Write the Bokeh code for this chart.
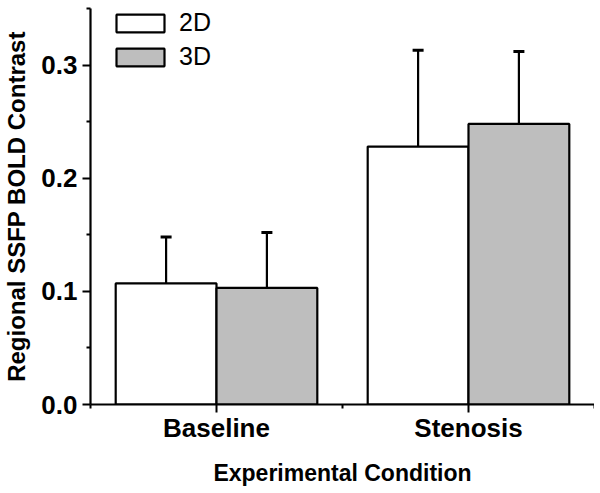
from bokeh.plotting import figure
from bokeh.models import FixedTicker, ColumnDataSource, Whisker, TeeHead, Legend, LegendItem
from bokeh.embed import file_html
from bokeh.resources import INLINE

conditions = ["Baseline", "Stenosis"]
series = ["2D", "3D"]
mean_2d = [0.107, 0.228]
mean_3d = [0.103, 0.248]
err_2d = [0.041, 0.085]
err_3d = [0.049, 0.064]
fills = ["#ffffff", "#bebebe"]
y_ticks = [0.0, 0.1, 0.2, 0.3]
y_minor = [0.05, 0.15, 0.25, 0.35]

FONT = "Liberation Sans"
BW = 0.4

p = figure(width=594, height=490, output_backend="svg", toolbar_location=None,
           x_range=(0.5, 2.5), y_range=(0, 0.35),
           min_border_left=90, min_border_right=0, min_border_top=8, min_border_bottom=86)
p.outline_line_color = None
p.xgrid.visible = False
p.ygrid.visible = False
p.background_fill_color = None
p.border_fill_color = "white"

xs = [i + 1 for i in range(len(conditions))]
items = []
for k, (name, means, errs) in enumerate(zip(series, [mean_2d, mean_3d], [err_2d, err_3d])):
    off = -BW / 2 if k == 0 else BW / 2
    src = ColumnDataSource(dict(x=[x + off for x in xs], top=means,
                                upper=[m + e for m, e in zip(means, errs)]))
    r = p.vbar(x="x", top="top", bottom=0, width=BW, source=src,
               fill_color=fills[k], line_color="black", line_width=2.2)
    w = Whisker(base="x", lower="top", upper="upper", source=src, dimension="height",
                line_color="black", line_width=2.2, lower_head=None,
                upper_head=TeeHead(size=11, line_color="black", line_width=3))
    p.add_layout(w)
    items.append(LegendItem(label=name, renderers=[r]))

legend = Legend(items=items, location=(20, 333), glyph_width=60, glyph_height=22,
                spacing=5, padding=0, margin=0, label_standoff=9,
                label_text_font=FONT, label_text_font_size="25px",
                label_text_color="black", label_height=28,
                border_line_color=None, background_fill_alpha=0)
p.add_layout(legend)

# y axis
ya = p.yaxis[0]
ya.ticker = FixedTicker(ticks=y_ticks, minor_ticks=y_minor)
ya.major_label_overrides = {t: f"{t:.1f}" for t in y_ticks}
ya.axis_label = "Regional SSFP BOLD Contrast"
# x axis
xa = p.xaxis[0]
xa.ticker = FixedTicker(ticks=xs, minor_ticks=[0.5, 1.5, 2.5])
xa.major_label_overrides = {x: c for x, c in zip(xs, conditions)}
xa.axis_label = "Experimental Condition"

for ax in (xa, ya):
    ax.axis_line_width = 2.2
    ax.axis_line_color = "black"
    ax.major_tick_line_width = 2
    ax.minor_tick_line_width = 2
    ax.major_tick_out = 8
    ax.major_tick_in = 0
    ax.minor_tick_out = 4
    ax.minor_tick_in = 0
    ax.major_label_text_font = FONT
    ax.major_label_text_font_style = "bold"
    ax.major_label_text_font_size = "26px"
    ax.major_label_text_color = "black"
    ax.axis_label_text_font = FONT
    ax.axis_label_text_font_style = "bold"
    ax.axis_label_text_color = "black"

xa.axis_label_text_font_size = "23px"
ya.axis_label_text_font_size = "24px"
ya.major_label_standoff = 5
ya.axis_label_standoff = 8
xa.major_label_standoff = 0
xa.axis_label_standoff = 14

open("out.html", "w").write(file_html(p, INLINE))
